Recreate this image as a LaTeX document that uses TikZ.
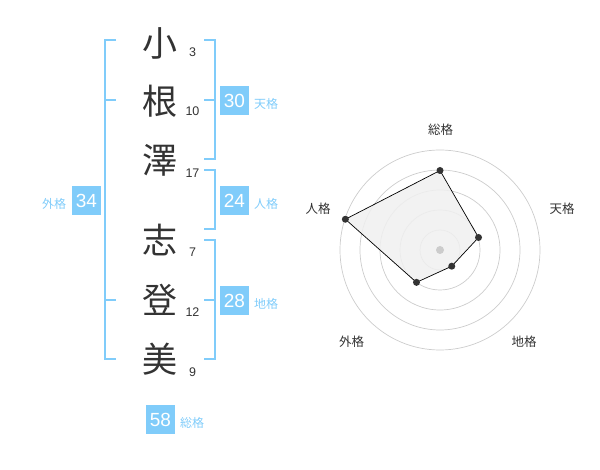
\documentclass[tikz,border=0pt]{standalone}
\usepackage{fontspec}
\newfontfamily\cjk{Noto Sans CJK JP}
\newfontfamily\digits{Liberation Sans}
\definecolor{bl}{RGB}{128,204,250}
\definecolor{dk}{RGB}{51,51,51}
\definecolor{ring}{RGB}{204,204,204}
\definecolor{polyfill}{RGB}{240,240,240}
\begin{document}
\begin{tikzpicture}[x=1pt,y=-1pt,
  bigchar/.style={inner sep=0pt,text=dk,font=\cjk\fontsize{35}{35}\selectfont},
  strokes/.style={inner sep=0pt,text=dk,font=\digits\fontsize{12.5}{12.5}\selectfont},
  scorebox/.style={fill=bl,text=white,minimum width=29pt,minimum height=29pt,inner sep=0pt,font=\digits\fontsize{19}{19}\selectfont},
  scorelabel/.style={inner sep=0pt,text=bl,font=\cjk\fontsize{12}{12}\selectfont},
  radarlabel/.style={inner sep=0pt,text=dk,font=\cjk\fontsize{12.5}{12.5}\selectfont},
  bracket/.style={draw=bl,line width=2pt},
  dot/.style={circle,fill=dk,inner sep=0pt,minimum size=7pt}]
\useasboundingbox (0,0) rectangle (600,470);
% characters
\node[bigchar] (c1) at (160,43) {小};
\node[bigchar] (c2) at (160,101) {根};
\node[bigchar] (c3) at (160,160) {澤};
\node[bigchar] (c4) at (160,240) {志};
\node[bigchar] (c5) at (160,300) {登};
\node[bigchar] (c6) at (160,359) {美};
% stroke counts
\node[strokes] (n1) at (192.5,52.5) {3};
\node[strokes] (n2) at (192.5,111.5) {10};
\node[strokes] (n3) at (192.5,173) {17};
\node[strokes] (n4) at (192.5,252.5) {7};
\node[strokes] (n5) at (192.5,312.5) {12};
\node[strokes] (n6) at (192.5,372.5) {9};
% brackets
\draw[bracket] (116,40) -- (105,40) -- (105,359) -- (116,359);
\draw[bracket] (105,100) -- (116,100);
\draw[bracket] (105,300) -- (116,300);
\draw[bracket] (204,40) -- (215,40) -- (215,159.5) -- (204,159.5);
\draw[bracket] (204,100) -- (215,100);
\draw[bracket] (204,170) -- (215,170) -- (215,229.5) -- (204,229.5);
\draw[bracket] (204,240) -- (215,240) -- (215,359.5) -- (204,359.5);
\draw[bracket] (204,300) -- (215,300);
% score boxes
\node[scorebox] (b1) at (234.5,100.5) {30};
\node[scorelabel] (l1) at (266,104) {天格};
\node[scorebox] (b2) at (234.5,200.5) {24};
\node[scorelabel] (l2) at (266,204) {人格};
\node[scorebox] (b3) at (234.5,300.5) {28};
\node[scorelabel] (l3) at (266,304) {地格};
\node[scorebox] (b4) at (86.5,200.5) {34};
\node[scorelabel] (l4) at (54,204) {外格};
\node[scorebox] (b5) at (160.5,419.5) {58};
\node[scorelabel] (l5) at (192,423) {総格};
% radar
\begin{scope}[shift={(440,250)},yscale=-1]
  \foreach \r in {20,40,60,80,100} \draw[ring,line width=0.7pt] (0,0) circle (\r);
  \coordinate (q1) at (90:79.5);
  \coordinate (q2) at (18:40.5);
  \coordinate (q3) at (-54:20);
  \coordinate (q4) at (-126:40);
  \coordinate (q5) at (162:99.5);
  \filldraw[fill=polyfill,fill opacity=0.85,draw=black,line width=0.7pt] (q1) -- (q2) -- (q3) -- (q4) -- (q5) -- cycle;
  \node[circle,fill=ring,inner sep=0pt,minimum size=8pt] (ctr) at (0,0) {};
  \foreach \i in {1,...,5} \node[dot] (p\i) at (q\i) {};
\end{scope}
\node[radarlabel] (r1) at (440.7,130) {総格};
\node[radarlabel] (r2) at (562,209) {天格};
\node[radarlabel] (r3) at (524,341.7) {地格};
\node[radarlabel] (r4) at (351.7,341.7) {外格};
\node[radarlabel] (r5) at (318,209) {人格};
\end{tikzpicture}
\end{document}
